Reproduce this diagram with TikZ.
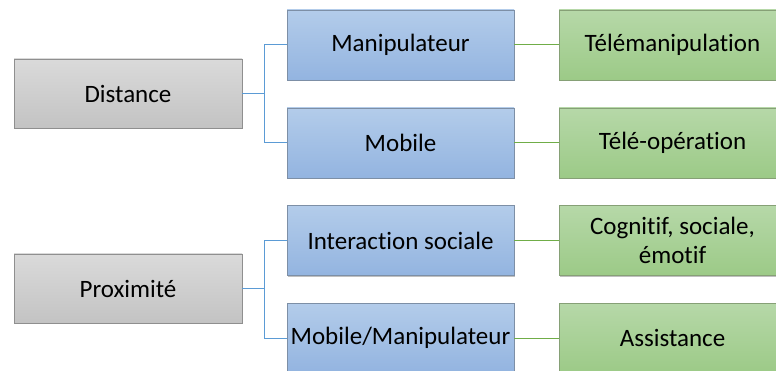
\documentclass[tikz,border=0pt]{standalone}
\usepackage{fontspec}
\setmainfont[Ligatures=NoCommon]{Carlito}
\usetikzlibrary{shadows}
\definecolor{gtop}{HTML}{DADADA}
\definecolor{gbot}{HTML}{C3C3C3}
\definecolor{gbrd}{HTML}{8F8F8F}
\definecolor{btop}{HTML}{B3CCEA}
\definecolor{bbot}{HTML}{93B4E0}
\definecolor{bbrd}{HTML}{7D8FA6}
\definecolor{vtop}{HTML}{B6D8A8}
\definecolor{vbot}{HTML}{9CCA87}
\definecolor{vbrd}{HTML}{86A076}
\definecolor{bline}{HTML}{5B9BD5}
\definecolor{vline}{HTML}{70AD47}
\tikzset{
  box/.style={rectangle, draw, line width=0.8pt, minimum width=227pt, minimum height=70pt,
    inner sep=0pt, align=center, font=\fontsize{25}{29}\selectfont,
    drop shadow={shadow xshift=1.2pt, shadow yshift=-1.2pt, opacity=0.25, fill=black}},
  graybox/.style={box, draw=gbrd, top color=gtop, bottom color=gbot},
  bluebox/.style={box, draw=bbrd, top color=btop, bottom color=bbot},
  greenbox/.style={box, draw=vbrd, top color=vtop, bottom color=vbot},
  bconn/.style={draw=bline, line width=1pt},
  vconn/.style={draw=vline, line width=1pt}
}
\begin{document}
\begin{tikzpicture}[x=1pt,y=-1pt]
\useasboundingbox (0,0) rectangle (776,371);
\clip (0,0) rectangle (776,371);
\fill[white] (0,0) rectangle (776,371);
% level 1
\node[graybox, minimum width=228pt, minimum height=69pt] (dist) at (128,93.5) {Distance};
\node[graybox, minimum width=228pt, minimum height=69pt] (prox) at (128,288.5) {Proximité};
% level 2
\node[bluebox] (manip) at (400.5,45) {Manipulateur};
\node[bluebox] (mob) at (400.5,143) {Mobile};
\node[bluebox] (inter) at (400.5,240.5) {Interaction sociale};
\node[bluebox] (mobman) at (400.5,338) {Mobile/Manipulateur};
% level 3
\node[greenbox] (tmanip) at (672.5,45) {Télémanipulation};
\node[greenbox] (tope) at (672.5,143) {Télé-opération};
\node[greenbox] (cog) at (672.5,240.5) {Cognitif, sociale,\\émotif};
\node[greenbox] (assist) at (672.5,338) {Assistance};
% connectors
\coordinate (j1) at (264,93.5);
\coordinate (j2) at (264,288.5);
\draw[bconn] (dist.east) -- (j1) |- (manip.west);
\draw[bconn] (j1) |- (mob.west);
\draw[bconn] (prox.east) -- (j2) |- (inter.west);
\draw[bconn] (j2) |- (mobman.west);
\draw[vconn] (manip.east) -- (tmanip.west);
\draw[vconn] (mob.east) -- (tope.west);
\draw[vconn] (inter.east) -- (cog.west);
\draw[vconn] (mobman.east) -- (assist.west);
\end{tikzpicture}
\end{document}
